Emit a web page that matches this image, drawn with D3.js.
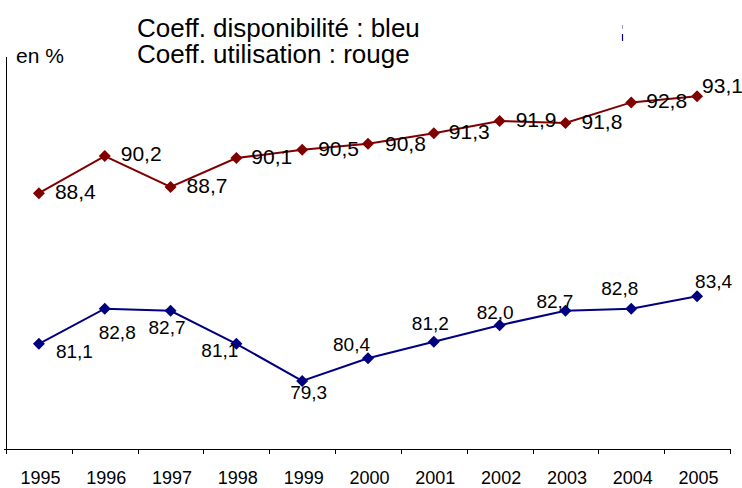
<!DOCTYPE html>
<html>
<head>
<meta charset="utf-8">
<script src="https://cdn.jsdelivr.net/npm/d3@7/dist/d3.min.js"></script>
<style>
  html, body { margin: 0; padding: 0; background: #fff; }
  svg { display: block; font-family: "Liberation Sans", Arial, sans-serif; }
</style>
</head>
<body>
<svg id="chart" width="742" height="488"></svg>
<script>
// Years on the horizontal axis
const years = ["1995", "1996", "1997", "1998", "1999", "2000", "2001", "2002", "2003", "2004", "2005"];
// Coefficient d'utilisation (rouge), en %
const utilisation = [88.4, 90.2, 88.7, 90.1, 90.5, 90.8, 91.3, 91.9, 91.8, 92.8, 93.1];
// Coefficient de disponibilité (bleu), en %
const disponibilite = [81.1, 82.8, 82.7, 81.1, 79.3, 80.4, 81.2, 82.0, 82.7, 82.8, 83.4];
// Value range of the vertical axis
const yDomain = [76, 95];
const titleLines = ["Coeff. disponibilité : bleu", "Coeff. utilisation : rouge"];
const unitLabel = "en %";

// Label placement relative to each marker: [dx, dy of baseline]
const redNudge = [[16, 6], [16, 5], [16, 6], [15, 6], [16, 6], [17, 7], [15, 6], [16, 6], [16, 6], [15, 6], [5, -3]];
const blueNudge = [[17, 14], [-6, 30], [-22, 23], [-35, 13], [-12, 18], [-35, -7], [-22, -12], [-23, -6], [-29, -3], [-30, -14], [-2, -8]];

const svg = d3.select("#chart");
const x = d3.scaleBand().domain(years).range([6, 730]);
const y = d3.scaleLinear().domain(yDomain).range([449, 57]);
const cx = d => x(d) + x.bandwidth() / 2;
const fmt = v => d3.format(".1f")(v).replace(".", ",");

// Axes
svg.append("line")
  .attr("x1", 6.5).attr("x2", 6.5)
  .attr("y1", y(yDomain[1])).attr("y2", y(yDomain[0]))
  .attr("stroke", "#000").attr("stroke-width", 1);
svg.append("line")
  .attr("x1", 4).attr("x2", x.range()[1] + 0.5)
  .attr("y1", y(yDomain[0]) + 0.5).attr("y2", y(yDomain[0]) + 0.5)
  .attr("stroke", "#000").attr("stroke-width", 1);
const tickPos = years.map(d => x(d)).concat([x.range()[1]]);
svg.append("g").selectAll("line").data(tickPos).join("line")
  .attr("x1", d => Math.round(d) + 0.5).attr("x2", d => Math.round(d) + 0.5)
  .attr("y1", y(yDomain[0])).attr("y2", y(yDomain[0]) + 5)
  .attr("stroke", "#000").attr("stroke-width", 1);
svg.append("g").selectAll("text").data(years).join("text")
  .attr("x", d => cx(d) + 1.5).attr("y", 484)
  .attr("text-anchor", "middle")
  .attr("font-size", 18)
  .attr("fill", "#000")
  .text(d => d);

// Titles
svg.append("text").attr("x", 16).attr("y", 63)
  .attr("font-size", 21).attr("fill", "#000").text(unitLabel);
svg.append("g").selectAll("text").data(titleLines).join("text")
  .attr("x", 137).attr("y", (d, i) => 37 + i * 26)
  .attr("font-size", 26).attr("fill", "#000")
  .text(d => d);

// Small legend stroke at top right
svg.append("line").attr("x1", 622.5).attr("x2", 622.5).attr("y1", 25).attr("y2", 29)
  .attr("stroke", "#000080").attr("stroke-opacity", 0.4).attr("stroke-width", 1);
svg.append("line").attr("x1", 622.5).attr("x2", 622.5).attr("y1", 34).attr("y2", 41)
  .attr("stroke", "#000080").attr("stroke-width", 1.2);

function drawSeries(values, color, nudge, fontSize) {
  const pts = years.map((d, i) => ({ year: d, v: values[i], i }));
  const line = d3.line().x(p => cx(p.year)).y(p => y(p.v));
  svg.append("path").datum(pts)
    .attr("d", line)
    .attr("fill", "none")
    .attr("stroke", color)
    .attr("stroke-width", 2);
  const diamond = d3.symbol(d3.symbolSquare, 72);
  svg.append("g").selectAll("path").data(pts).join("path")
    .attr("d", diamond)
    .attr("transform", p => `translate(${cx(p.year)},${y(p.v)}) rotate(45)`)
    .attr("fill", color);
  svg.append("g").selectAll("text").data(pts).join("text")
    .attr("x", p => cx(p.year) + nudge[p.i][0])
    .attr("y", p => y(p.v) + nudge[p.i][1])
    .attr("font-size", fontSize)
    .attr("fill", "#000")
    .text(p => fmt(p.v));
}

drawSeries(utilisation, "#800000", redNudge, 21);
drawSeries(disponibilite, "#000080", blueNudge, 19);
</script>
</body>
</html>
